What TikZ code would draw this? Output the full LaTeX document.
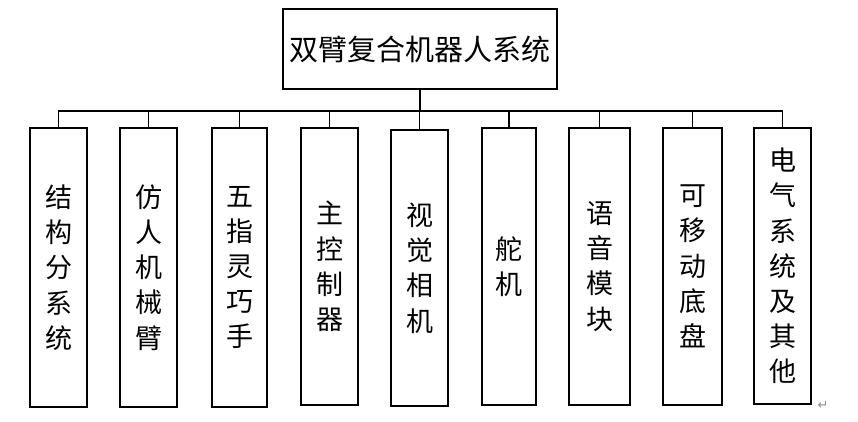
\documentclass[tikz,border=0pt]{standalone}
\usepackage{fontspec}
\newfontfamily\cjk{Noto Sans CJK SC}
\newfontfamily\dejavu{DejaVu Sans}
\begin{document}
\begin{tikzpicture}[x=1pt,y=1pt,
  box/.style={draw=black, line width=1.7pt, inner sep=0pt, align=center,
    font=\cjk\fontsize{27}{35.2}\selectfont},
  conn/.style={draw=black, line width=1.5pt}]
\useasboundingbox (0,0) rectangle (858,422);
\node[box, minimum width=274pt, minimum height=80pt,
  font=\cjk\fontsize{29}{33}\selectfont] (top) at (420,373) {双臂复合机器人系统};
\node[box, minimum width=57pt, minimum height=279pt] (b1) at (58.5,154.5) {结\\构\\分\\系\\统};
\node[box, minimum width=57pt, minimum height=279pt] (b2) at (148.5,154.5) {仿\\人\\机\\械\\臂};
\node[box, minimum width=55pt, minimum height=279pt] (b3) at (239.5,154.5) {五\\指\\灵\\巧\\手};
\node[box, minimum width=57pt, minimum height=277pt] (b4) at (329.5,155.5) {主\\控\\制\\器};
\node[box, minimum width=57pt, minimum height=276pt] (b5) at (419.5,154) {视\\觉\\相\\机};
\node[box, minimum width=54pt, minimum height=277pt] (b6) at (509,155.5) {舵\\机};
\node[box, minimum width=61pt, minimum height=277pt] (b7) at (599.5,155.5) {语\\音\\模\\块};
\node[box, minimum width=59pt, minimum height=277pt] (b8) at (692.5,155.5) {可\\移\\动\\底\\盘};
\node[box, minimum width=57pt, minimum height=276pt] (b9) at (782.5,156) {电\\气\\系\\统\\及\\其\\他};
\node[font=\dejavu\fontsize{13}{13}\selectfont, text=black!45, inner sep=0pt] (mark) at (823,17) {↵};
\coordinate (bus) at (420,311);
\draw[conn] (top.south) -- (bus);
\draw[conn] (b1.north) -- (b1.north |- bus) -- (b9.north |- bus) -- (b9.north);
\foreach \i in {2,...,8} {
  \draw[conn] (b\i.north) -- (b\i.north |- bus);
}
\end{tikzpicture}
\end{document}
